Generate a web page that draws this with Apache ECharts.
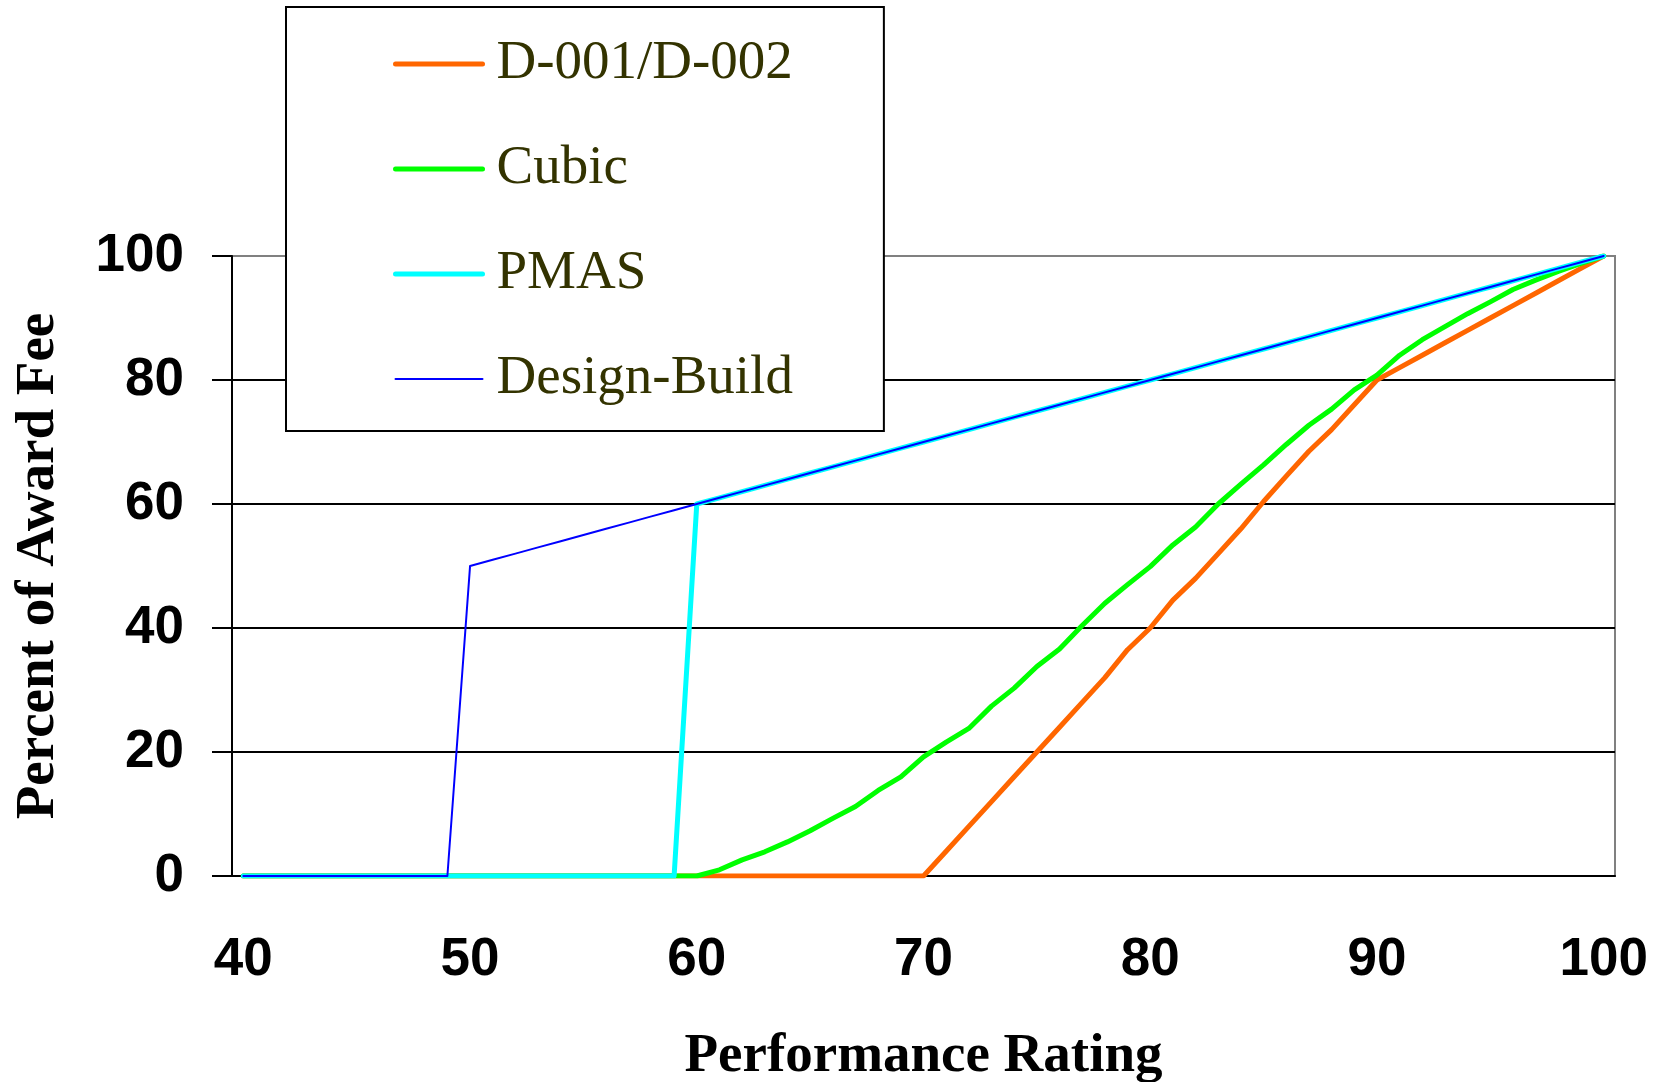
<!DOCTYPE html>
<html>
<head>
<meta charset="utf-8">
<script src="https://cdn.jsdelivr.net/npm/echarts@6/dist/echarts.min.js"></script>
<style>
html,body{margin:0;padding:0;background:#fff;}
#chart{width:1657px;height:1082px;}
</style>
</head>
<body>
<div id="chart"></div>
<script>
// Performance rating categories 40..100
const categories = ['40','41','42','43','44','45','46','47','48','49','50','51','52','53','54','55','56','57','58','59','60','61','62','63','64','65','66','67','68','69','70','71','72','73','74','75','76','77','78','79','80','81','82','83','84','85','86','87','88','89','90','91','92','93','94','95','96','97','98','99','100'];

const seriesNames = ['D-001/D-002', 'Cubic', 'PMAS', 'Design-Build'];

// D-001/D-002
const d001Values = [0,0,0,0,0,0,0,0,0,0, 0,0,0,0,0,0,0,0,0,0, 0,0,0,0,0,0,0,0,0,0, 0,4,8,12,16,20,24,28,32,36.5, 40,44.5,48,52,56,60.4,64.5,68.5,72,76, 80,82,84,86,88,90,92,94,96,98, 100];

// Cubic
const cubicValues = [0,0,0,0,0,0,0,0,0,0, 0,0,0,0,0,0,0,0,0,0, 0,1,2.6,3.9,5.5,7.3,9.3,11.2,13.8,16, 19.2,21.6,23.8,27.4,30.3,33.8,36.6,40.4,44,47, 49.9,53.4,56.3,60,63.2,66.3,69.6,72.7,75.3,78.4, 80.8,84,86.5,88.6,90.7,92.6,94.6,96.1,97.5,98.8, 100];

// PMAS
const pmasValues = [0,0,0,0,0,0,0,0,0,0, 0,0,0,0,0,0,0,0,0,0, 60,61,62,63,64,65,66,67,68,69, 70,71,72,73,74,75,76,77,78,79, 80,81,82,83,84,85,86,87,88,89, 90,91,92,93,94,95,96,97,98,99, 100];

// Design-Build
const dbValues = [0,0,0,0,0,0,0,0,0,0, 50,51,52,53,54,55,56,57,58,59, 60,61,62,63,64,65,66,67,68,69, 70,71,72,73,74,75,76,77,78,79, 80,81,82,83,84,85,86,87,88,89, 90,91,92,93,94,95,96,97,98,99, 100];

const yTicks = [0, 20, 40, 60, 80, 100];

const chart = echarts.init(document.getElementById('chart'), null, {renderer: 'canvas'});

function lineSeries(name, data, color, width) {
  return {
    name: name,
    type: 'line',
    data: data,
    symbol: 'none',
    smooth: false,
    animation: false,
    lineStyle: {color: color, width: width, cap: 'round', join: 'round'},
    itemStyle: {color: color}
  };
}

const option = {
  animation: false,
  backgroundColor: '#ffffff',
  grid: {
    left: 232, right: 42, top: 256, bottom: 206,
    containLabel: false,
    outerBoundsMode: 'none',
    show: true, borderColor: '#808080', borderWidth: 2, backgroundColor: 'transparent'
  },
  legend: {
    orient: 'vertical',
    left: 286,
    top: 7,
    padding: [29, 91, 24, 107],
    itemGap: 49,
    itemWidth: 87,
    itemHeight: 14,
    borderColor: '#000000',
    borderWidth: 2,
    backgroundColor: '#ffffff',
    data: seriesNames,
    lineStyle: {width: 'inherit', cap: 'round'},
    itemStyle: {opacity: 0, borderWidth: 0},
    textStyle: {
      fontFamily: '"Liberation Serif", "Times New Roman", serif',
      fontSize: 55,
      lineHeight: 56,
      color: '#333300',
      padding: [0, 0, 0, 9]
    }
  },
  xAxis: {
    type: 'category',
    data: categories,
    boundaryGap: true,
    name: 'Performance Rating',
    nameLocation: 'middle',
    nameGap: 153,
    nameTextStyle: {
      fontFamily: '"Liberation Serif", "Times New Roman", serif',
      fontWeight: 'bold', fontSize: 55, color: '#000000'
    },
    axisLine: {show: true, lineStyle: {color: '#000000', width: 2}},
    axisTick: {show: false},
    splitLine: {show: false},
    axisLabel: {
      interval: 9,
      margin: 58,
      fontFamily: '"Liberation Sans", Arial, sans-serif',
      fontWeight: 'bold', fontSize: 53, color: '#000000'
    }
  },
  yAxis: {
    type: 'value',
    min: yTicks[0],
    max: yTicks[yTicks.length - 1],
    interval: 20,
    name: 'Percent of Award Fee',
    nameLocation: 'middle',
    nameGap: 166,
    nameTextStyle: {
      fontFamily: '"Liberation Serif", "Times New Roman", serif',
      fontWeight: 'bold', fontSize: 55, color: '#000000'
    },
    axisLine: {show: true, lineStyle: {color: '#000000', width: 2}},
    axisTick: {show: true, inside: false, length: 20, lineStyle: {color: '#000000', width: 2}},
    splitLine: {show: true, lineStyle: {color: ['#000000','#000000','#000000','#000000','#000000','#808080'], width: 2}},
    axisLabel: {
      margin: 48,
      fontFamily: '"Liberation Sans", Arial, sans-serif',
      fontWeight: 'bold', fontSize: 53, color: '#000000'
    }
  },
  series: [
    lineSeries(seriesNames[0], d001Values, '#FF6600', 5),
    lineSeries(seriesNames[1], cubicValues, '#00FF00', 5),
    lineSeries(seriesNames[2], pmasValues, '#00FFFF', 5),
    lineSeries(seriesNames[3], dbValues, '#0000FF', 2)
  ]
};

chart.setOption(option);
</script>
</body>
</html>
